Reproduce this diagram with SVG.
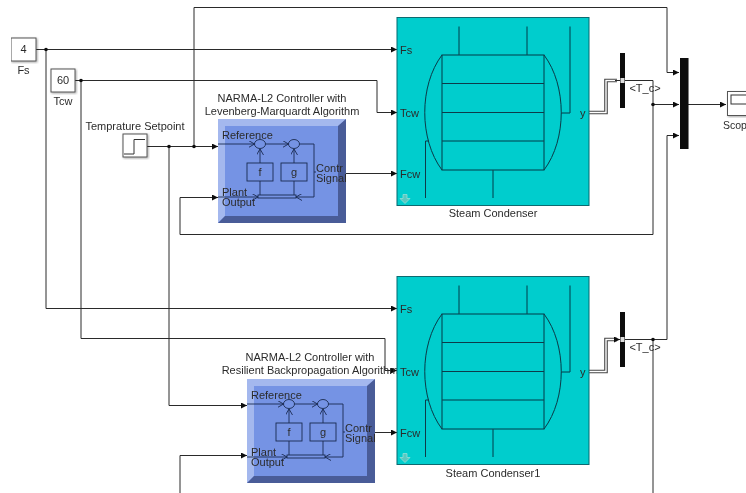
<svg xmlns="http://www.w3.org/2000/svg" xmlns:xlink="http://www.w3.org/1999/xlink" width="746" height="493" viewBox="0 0 746 493">
<style>
text{font-family:"Liberation Sans",Arial,sans-serif;font-size:11px;fill:#2b2b2b}
.m{text-anchor:middle}
.w{fill:none;stroke:#2a2a2a;stroke-width:1}
.b{fill:#fff;stroke:#555;stroke-width:1}
.n{fill:none;stroke:#0a3a48;stroke-width:1}
.i{fill:none;stroke:#1a2a50;stroke-width:.9}
.bar{fill:#0a0a0a}
</style>
<defs>
<filter id="soft" x="0" y="0" width="100%" height="100%"><feGaussianBlur stdDeviation="0.35"/></filter>
<filter id="sh" x="-10%" y="-10%" width="120%" height="120%"><feDropShadow dx="1" dy="1" stdDeviation="1" flood-color="#000" flood-opacity=".35"/></filter>
<marker id="a" markerWidth="7" markerHeight="6" refX="6" refY="3" orient="auto" markerUnits="userSpaceOnUse"><path d="M0 0L6 3L0 6Z" fill="#111"/></marker>
<marker id="o" markerWidth="7" markerHeight="7" refX="6" refY="3.5" orient="auto" markerUnits="userSpaceOnUse"><path d="M0 0L6 3.5L0 7" fill="none" stroke="#1a2a50" stroke-width=".9"/></marker>
<clipPath id="cc"><rect x="0" y="0" width="128" height="104"/></clipPath>
<g id="ctrl">
<rect width="128" height="104" fill="#7a96e6"/>
<path d="M0 0H128L120 7H7V97L0 104Z" fill="#a4b8ee"/>
<path d="M128 0V104H0L7 97H120V7Z" fill="#4a5c98"/>
<rect x="7" y="7" width="113" height="90" fill="#7593e4"/>
<g clip-path="url(#cc)">
<text x="4" y="20">Reference</text><text x="4" y="77">Plant</text><text x="4" y="87">Output</text>
<text x="98" y="53">Contr</text><text x="98" y="62.500">Signal</text>
</g>
<ellipse cx="42" cy="25" rx="5.500" ry="4.500" class="i"/><ellipse cx="76" cy="25" rx="5.500" ry="4.500" class="i"/>
<rect x="29" y="44" width="26" height="18" class="i"/><rect x="63" y="44" width="26" height="18" class="i"/>
<text x="42" y="56.500" class="m">f</text><text x="76" y="56.500" class="m">g</text>
<rect x="40" y="76" width="38" height="3" class="i"/>
<path class="i" marker-end="url(#o)" d="M0 25H36.500"/><path class="i" marker-end="url(#o)" d="M47.500 25H70.500"/>
<path class="i" d="M81.500 25H96V78H78" marker-end="url(#o)"/><path class="i" marker-end="url(#o)" d="M0 78H40"/>
<path class="i" marker-end="url(#o)" d="M42 44V30"/><path class="i" marker-end="url(#o)" d="M76 44V30"/>
<path class="i" d="M42 62V76M76 62V76M96 53H98"/>
</g>
<g id="cond">
<rect width="192" height="188" fill="#00cdcd" stroke="#0a6a70" stroke-width="1"/>
<rect x="45" y="37.500" width="102" height="115" class="n"/>
<path class="n" d="M45 66H147M45 95H147M45 123.500H147"/>
<path class="n" d="M45 37.500C22 68 22 122 45 152.500M147 37.500C170 68 170 122 147 152.500"/>
<path class="n" d="M62 9V37.500M130 9V37.500M96 152.500V180.500M173 9V95.500H164M28.500 180.500V123.500H32"/>
<path d="M6 177H10V181H13L8 186L3 181H6Z" fill="#5cc8c0" stroke="#8fe0d8" stroke-width=".8"/>
<text x="3" y="36.500">Fs</text><text x="3" y="99">Tcw</text><text x="3" y="160">Fcw</text><text x="183" y="99">y</text>
</g>
</defs>
<rect width="746" height="493" fill="#fff"/>
<g filter="url(#soft)">
<g id="connectors">
<path class="w" marker-end="url(#a)" d="M36 49.500H397"/>
<path class="w" marker-end="url(#a)" d="M46 49.500V308.500H397"/>
<path class="w" marker-end="url(#a)" d="M75 80.500H377V112.500H397"/>
<path class="w" marker-end="url(#a)" d="M81 80.500V338.500H385V370.500H397"/>
<path class="w" marker-end="url(#a)" d="M147 146.500H218"/>
<path class="w" marker-end="url(#a)" d="M194 146.500V7.500H667V72.500H679"/>
<path class="w" marker-end="url(#a)" d="M169 146.500V405.500H247"/>
<path class="w" marker-end="url(#a)" d="M346 173.500H397"/>
<path class="w" marker-end="url(#a)" d="M374 432.500H397"/>
<path class="w" marker-end="url(#a)" d="M625 80.500H653V234.500H180V197.500H218"/>
<path class="w" marker-end="url(#a)" d="M653 104.500H679"/>
<path class="w" marker-end="url(#a)" d="M625 339.500H667V135.500H679"/>
<path class="w" d="M653 339.500V493"/>
<path class="w" marker-end="url(#a)" d="M180 493V455.500H247"/>
<path class="w" marker-end="url(#a)" d="M688 104.500H726"/>
<path fill="none" stroke="#444" stroke-width="3.600" d="M589 112.500H606V80.500H617"/>
<path fill="none" stroke="#fff" stroke-width="1.400" d="M589 112.500H606V80.500H617"/>
<path fill="none" stroke="#444" stroke-width="3.600" d="M589 371.500H606V339.500H617"/>
<path fill="none" stroke="#fff" stroke-width="1.400" d="M589 371.500H606V339.500H617"/>
<path marker-end="url(#a)" d="M615 80.500H620M615 339.500H620" class="w"/>
<g fill="#111"><circle cx="46" cy="49.500" r="1.800"/><circle cx="81" cy="80.500" r="1.800"/><circle cx="169" cy="146.500" r="1.800"/><circle cx="194" cy="146.500" r="1.800"/><circle cx="653" cy="104.500" r="1.800"/><circle cx="653" cy="339.500" r="1.800"/></g>
</g>
<g id="fs"><rect x="11" y="38" width="25" height="23" class="b" filter="url(#sh)"/><text x="23.500" y="53" class="m">4</text><text x="23.500" y="74" class="m">Fs</text></g>
<g id="tcw"><rect x="51" y="69" width="24" height="23" class="b" filter="url(#sh)"/><text x="63" y="84" class="m">60</text><text x="63" y="105" class="m">Tcw</text></g>
<g id="setpoint"><rect x="123" y="134" width="24" height="23" class="b" filter="url(#sh)"/><path d="M124 154H134V139.500H145" fill="none" stroke="#333"/><text x="135" y="130" class="m">Temprature Setpoint</text></g>
<g id="controller1"><use href="#ctrl" xlink:href="#ctrl" x="218" y="119"/><text x="282" y="102" class="m">NARMA-L2 Controller with</text><text x="282" y="115" class="m">Levenberg-Marquardt Algorithm</text></g>
<g id="controller2"><use href="#ctrl" xlink:href="#ctrl" x="247" y="379"/><text x="310" y="361" class="m">NARMA-L2 Controller with</text><text x="310" y="373.500" class="m">Resilient Backpropagation Algorithm</text></g>
<g id="condenser1"><use href="#cond" xlink:href="#cond" x="397" y="17.500"/><text x="493" y="217" class="m">Steam Condenser</text></g>
<g id="condenser2"><use href="#cond" xlink:href="#cond" x="397" y="276.500"/><text x="493" y="477" class="m">Steam Condenser1</text></g>
<g id="demux1"><rect x="620" y="53" width="5" height="55" class="bar"/><rect x="620.500" y="78" width="4" height="5" fill="#ddd"/><text x="645" y="92" class="m">&lt;T_c&gt;</text></g>
<g id="demux2"><rect x="620" y="312" width="5" height="55" class="bar"/><rect x="620.500" y="337" width="4" height="5" fill="#ddd"/><text x="645" y="351" class="m">&lt;T_c&gt;</text></g>
<g id="mux"><rect x="680" y="58" width="8.500" height="91" class="bar"/></g>
<g id="scope"><rect x="727.500" y="91.500" width="30" height="24" class="b" filter="url(#sh)"/><rect x="731" y="95" width="20" height="9" fill="#fff" stroke="#333"/><text x="723" y="129" font-size="10.500" style="font-size:10.500px">Scop</text></g>
</g>
</svg>
